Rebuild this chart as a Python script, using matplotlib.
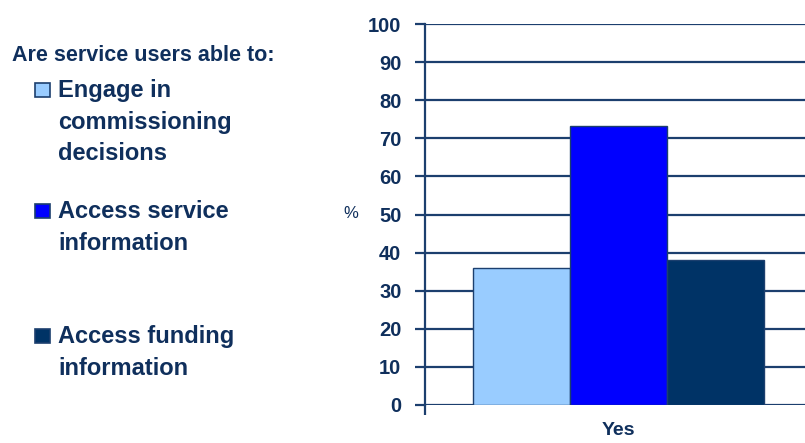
import matplotlib
matplotlib.use("Agg")
import matplotlib.pyplot as plt
from matplotlib.patches import Rectangle
from matplotlib.ticker import FixedLocator

# ---- data ----
categories = ["Yes"]
series_names = ["Engage in\ncommissioning\ndecisions",
                "Access service\ninformation",
                "Access funding\ninformation"]
series_values = [36.0, 73.2, 38.1]
series_colors = ["#99CCFF", "#0000FF", "#003366"]
legend_title = "Are service users able to:"
y_ticks = list(range(0, 101, 10))

W, H = 805, 443
DPI = 100
LINE = "#1c3f6e"
TEXT = "#0f2f5c"
FONT = "Liberation Sans"

fig = plt.figure(figsize=(W / DPI, H / DPI), dpi=DPI)
fig.patch.set_facecolor("white")

def px(x, y):
    return x / W, 1 - y / H

# axes: y-axis at x=425, zero at y=405, 100 at y=24, right edge beyond image
ax = fig.add_axes([425 / W, (H - 405) / H, (812 - 425) / W, (405 - 24) / H])
ax.set_xlim(-0.5, 0.5)
ax.set_ylim(0, 100)

bar_w = 0.25
n = len(series_values)
for i, (v, c) in enumerate(zip(series_values, series_colors)):
    off = (i - (n - 1) / 2) * bar_w
    ax.bar(0 + off, v, width=bar_w, color=c, edgecolor=LINE, linewidth=1.0, zorder=3)

ax.yaxis.set_major_locator(FixedLocator(y_ticks))
ax.grid(axis="y", color=LINE, linewidth=1.6, zorder=1)
ax.set_axisbelow(True)
for s in ["top", "right", "bottom"]:
    ax.spines[s].set_visible(False)
ax.spines["left"].set_color(LINE)
ax.spines["left"].set_linewidth(1.6)
ax.spines["left"].set_zorder(4)

ax.tick_params(axis="y", which="major", direction="out", length=7, width=1.6,
               color=LINE, pad=10, labelsize=14.5, labelcolor=TEXT)
for lab in ax.get_yticklabels():
    lab.set_fontweight("bold")
    lab.set_family(FONT)

ax.set_xticks([0])
ax.set_xticklabels(categories, fontsize=14, fontweight="bold", color=TEXT, family=FONT)
ax.tick_params(axis="x", which="major", length=0, pad=12)
ax.xaxis.set_minor_locator(FixedLocator([-0.5]))
ax.tick_params(axis="x", which="minor", direction="out", length=7, width=1.6, color=LINE)

ax.set_ylabel("%", rotation=0, fontsize=12, color=TEXT, family=FONT, va="center", ha="center")
ax.yaxis.set_label_coords((351 - 425) / 387, (405 - 213) / 381)

# ---- legend (drawn manually to reproduce layout) ----
fig.text(*px(12, 61), legend_title, fontsize=15.5, fontweight="bold", color=TEXT,
         family=FONT, ha="left", va="baseline")

first_baselines = [97, 218, 343]
line_step = 31.7
for name, color, b0 in zip(series_names, series_colors, first_baselines):
    x0, y0 = px(35, b0)
    fig.add_artist(Rectangle((x0, y0), 15 / W, 14.5 / H, transform=fig.transFigure,
                             facecolor=color, edgecolor=LINE, linewidth=1.2))
    for k, line in enumerate(name.split("\n")):
        fig.text(*px(58, b0 + k * line_step), line, fontsize=17, fontweight="bold",
                 color=TEXT, family=FONT, ha="left", va="baseline")

fig.savefig("out.png", dpi=DPI, facecolor="white")
